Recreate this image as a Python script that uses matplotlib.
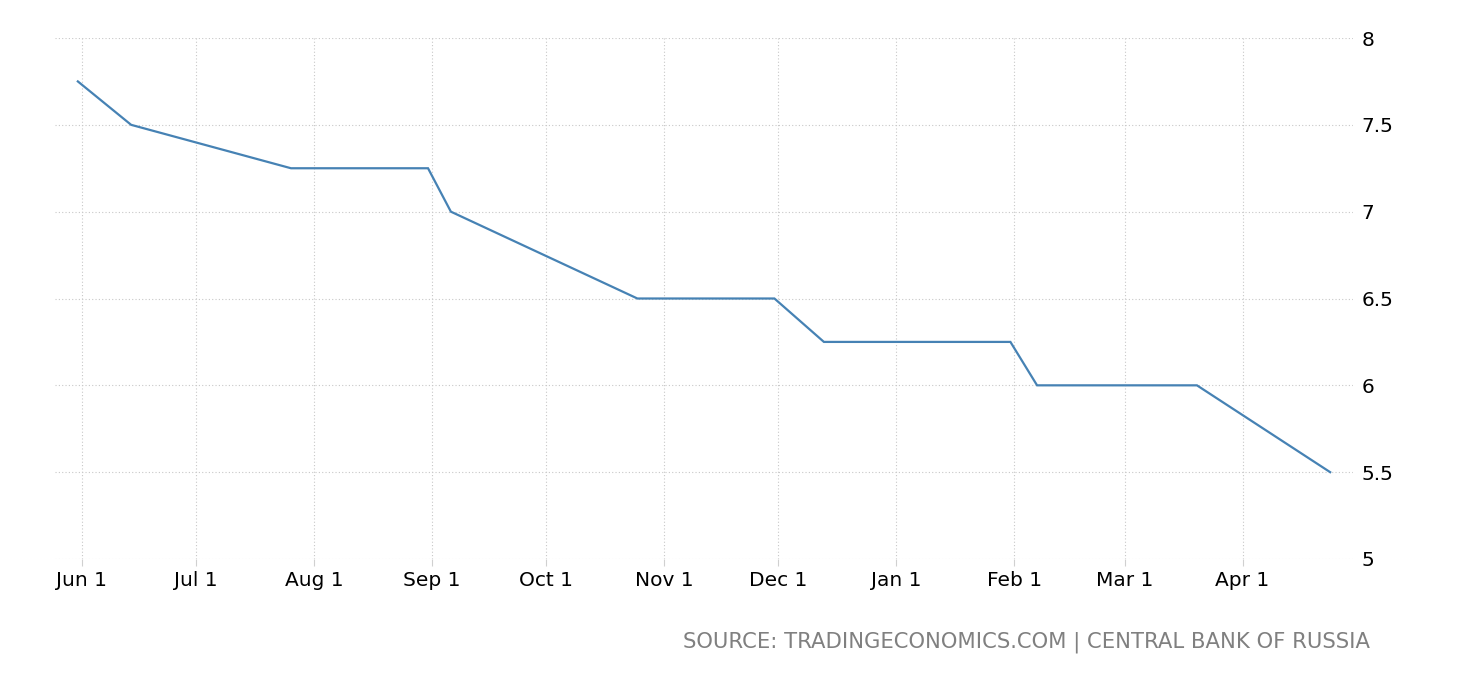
import matplotlib
matplotlib.use("Agg")
import matplotlib.pyplot as plt
import matplotlib.dates as mdates
import numpy as np

# ── data ──────────────────────────────────────────────────────────────────────
dates = np.array([
    "2019-05-31", "2019-06-14", "2019-07-26", "2019-08-31", "2019-09-06",
    "2019-10-25", "2019-11-30", "2019-12-13", "2020-01-31", "2020-02-07",
    "2020-03-20", "2020-04-24",
], dtype="datetime64[D]")
rates = [7.75, 7.5, 7.25, 7.25, 7.0, 6.5, 6.5, 6.25, 6.25, 6.0, 6.0, 5.5]

y_ticks = [5, 5.5, 6, 6.5, 7, 7.5, 8]
y_labels = ["5", "5.5", "6", "6.5", "7", "7.5", "8"]
x_ticks = np.array([
    "2019-06-01", "2019-07-01", "2019-08-01", "2019-09-01", "2019-10-01",
    "2019-11-01", "2019-12-01", "2020-01-01", "2020-02-01", "2020-03-01",
    "2020-04-01",
], dtype="datetime64[D]")
x_labels = ["Jun 1", "Jul 1", "Aug 1", "Sep 1", "Oct 1", "Nov 1",
            "Dec 1", "Jan 1", "Feb 1", "Mar 1", "Apr 1"]

SOURCE = "SOURCE: TRADINGECONOMICS.COM | CENTRAL BANK OF RUSSIA"

# ── figure ────────────────────────────────────────────────────────────────────
W, H = 1460, 680
fig = plt.figure(figsize=(W / 100, H / 100), dpi=100)
ax = fig.add_axes([55 / W, 1 - 559 / H, (1353 - 55) / W, (559 - 38) / H])

ax.plot(dates.astype("datetime64[ms]").astype(object), rates,
        color="#4682B4", lw=1.6, solid_joinstyle="miter")

ax.set_ylim(5, 8)
ax.set_xlim(mdates.datestr2num("2019-05-25"), mdates.datestr2num("2020-04-30"))

ax.set_yticks(y_ticks)
ax.set_yticklabels(y_labels)
ax.set_xticks(mdates.date2num(x_ticks.astype("datetime64[ms]").astype(object)))
ax.set_xticklabels(x_labels)

ax.yaxis.tick_right()
ax.tick_params(axis="y", length=0, pad=6, labelsize=14.5, labelcolor="#000000")
ax.tick_params(axis="x", length=5, color="#d0d0d0", width=0.8, pad=4,
               labelsize=14.5, labelcolor="#000000")

ax.grid(True, color="#c8c8c8", lw=0.8, ls=(0, (1, 2)))
ax.set_axisbelow(True)
for s in ax.spines.values():
    s.set_visible(False)

fig.text(1370 / W, 1 - 642 / H, SOURCE, ha="right", va="center",
         fontsize=15.2, color="#808080")

fig.savefig("out.png", dpi=100)
